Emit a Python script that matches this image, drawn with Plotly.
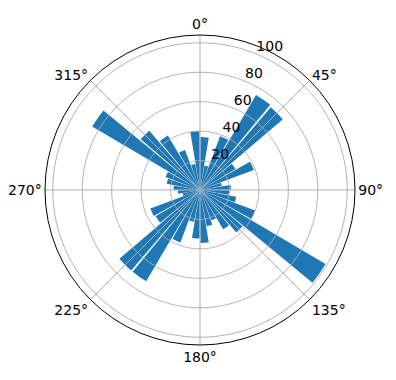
import plotly.graph_objects as go

# Bar directions (degrees, clockwise from north) and lengths
angles = [5, 15, 25, 35, 45, 55, 65, 75, 85,
          95, 105, 115, 125, 135, 145, 155, 165, 175,
          185, 195, 205, 215, 225, 235, 245, 255, 265,
          275, 285, 295, 305, 315, 325, 335, 345, 355]
values = [36, 17, 39, 75, 74, 28, 39, 15, 21,
          20, 25, 40, 99, 38, 31, 22, 25, 36,
          33, 22, 38, 72, 72, 35, 36, 12, 15,
          18, 23, 25, 85, 53, 43, 29, 18, 40]
bar_width = 9

r_ticks = [20, 40, 60, 80, 100]
r_tick_labels = ["20", "40", "60", "80", "100"]
r_label_angle = 22.5
theta_ticks = [0, 45, 90, 135, 180, 225, 270, 315]
theta_labels = ["0°", "45°", "90°", "135°", "180°", "225°", "270°", "315°"]
r_max = 105.3

grid_color = "#b0b0b0"
bar_color = "#1f77b4"

fig = go.Figure()
fig.add_trace(go.Barpolar(
    theta=angles, r=values, width=[bar_width] * len(angles),
    marker=dict(color=bar_color, line=dict(width=0)),
    hoverinfo="skip",
))

# grid drawn above bars (as matplotlib does)
circle_theta = list(range(0, 361))
for rv in r_ticks:
    fig.add_trace(go.Scatterpolar(
        theta=circle_theta, r=[rv] * len(circle_theta), mode="lines",
        line=dict(color=grid_color, width=1), hoverinfo="skip", showlegend=False))
for tv in theta_ticks:
    fig.add_trace(go.Scatterpolar(
        theta=[tv, tv], r=[0, r_max], mode="lines",
        line=dict(color=grid_color, width=1), hoverinfo="skip", showlegend=False))

# radial tick labels at 22.5 degrees
fig.add_trace(go.Scatterpolar(
    theta=[r_label_angle] * len(r_ticks), r=r_ticks, text=r_tick_labels,
    mode="text", textposition="top right",
    textfont=dict(family="DejaVu Sans", size=14, color="black"),
    hoverinfo="skip", showlegend=False, cliponaxis=False))

fig.update_layout(
    width=396, height=380,
    margin=dict(l=0, r=0, t=0, b=0),
    paper_bgcolor="white",
    showlegend=False,
    font=dict(family="DejaVu Sans", size=14, color="black"),
    polar=dict(
        domain=dict(x=[45 / 396, 355 / 396], y=[35 / 380, 345 / 380]),
        bgcolor="white",
        angularaxis=dict(
            direction="clockwise", rotation=90,
            tickmode="array", tickvals=theta_ticks, ticktext=theta_labels,
            showgrid=False, showline=True, linecolor="black", linewidth=1,
            ticks="", tickfont=dict(size=14, color="black"),
        ),
        radialaxis=dict(
            range=[0, r_max], angle=67.5,
            tickmode="array", tickvals=r_ticks,
            showgrid=False, showline=False, ticks="", showticklabels=False,
        ),
    ),
)

fig.write_html("out.html")
